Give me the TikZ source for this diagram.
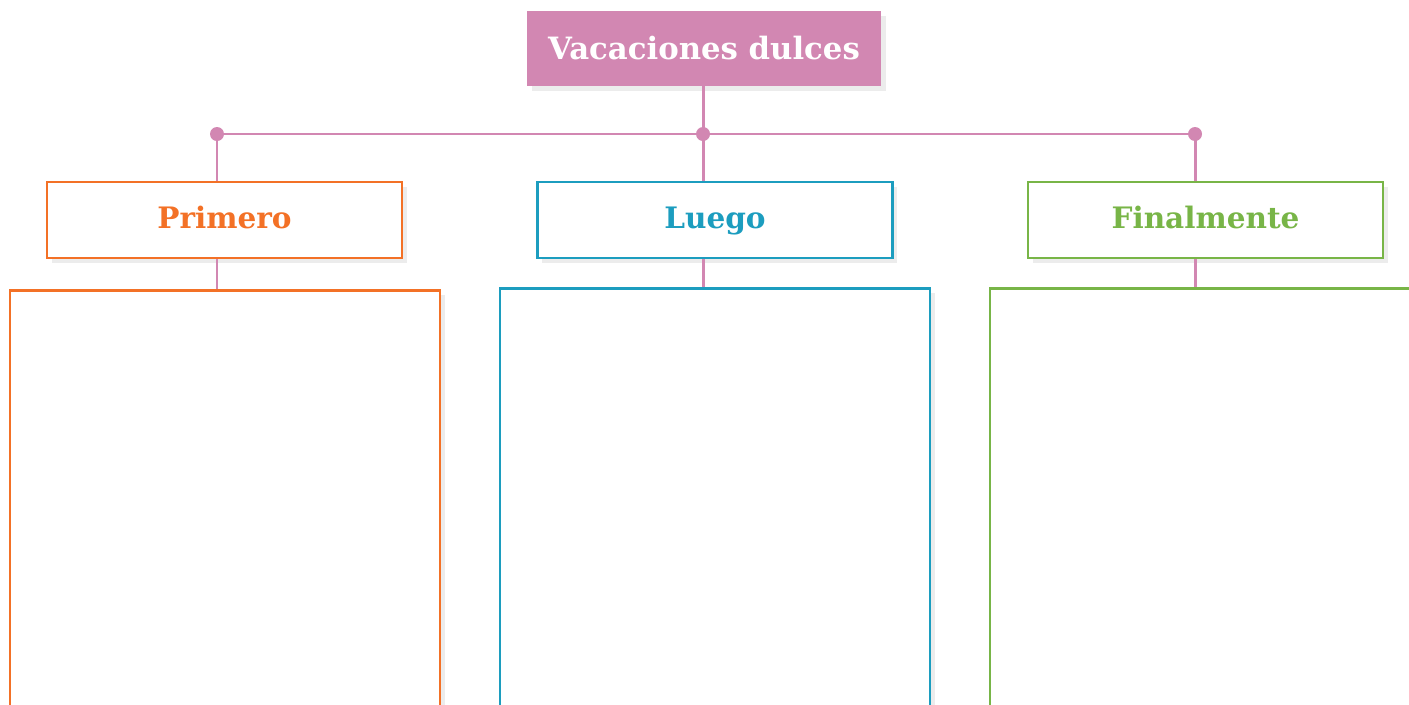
\documentclass[tikz,border=0pt]{standalone}
\usepackage{fontspec}
\setmainfont{DejaVu Serif}
\usetikzlibrary{shadows}
\definecolor{rosa}{HTML}{D287B2}
\definecolor{naranja}{HTML}{F37126}
\definecolor{azul}{HTML}{1C9DBF}
\definecolor{verde}{HTML}{78B547}
\tikzset{
  sombra/.style={drop shadow={opacity=0.15, shadow xshift=0.09cm, shadow yshift=-0.09cm}},
  titulo/.style={fill=rosa, text=white, font=\bfseries\fontsize{17.5}{20}\selectfont,
    minimum width=7.08cm, minimum height=1.5cm, inner sep=0pt, sombra},
  cabeza/.style={draw=#1, line width=1.5pt, fill=white, text=#1,
    font=\bfseries\fontsize{16.8}{20}\selectfont, text height=2.4ex, text depth=0.6ex,
    minimum width=7.1cm, minimum height=1.52cm, inner sep=0pt, sombra},
  caja/.style={draw=#1, line width=1.5pt, fill=white, anchor=north,
    minimum width=8.6cm, minimum height=9cm, inner sep=0pt, sombra},
  enlace/.style={draw=rosa, line width=1.7pt},
  punto/.style={fill=rosa}
}
\begin{document}
\begin{tikzpicture}
\useasboundingbox (0,0) rectangle (28.18,-14.08);
\clip (0,0) rectangle (28.18,-14.08);
%% title
\node[titulo] (tit) at (14.08,-0.97) {Vacaciones dulces};
%% joints on the bar
\coordinate (d1) at (4.34,-2.68);
\coordinate (d2) at (14.06,-2.68);
\coordinate (d3) at (23.9,-2.68);
%% headers
\node[cabeza=naranja] (h1) at (4.49,-4.40) {Primero};
\node[cabeza=azul] (h2) at (14.3,-4.40) {Luego};
\node[cabeza=verde] (h3) at (24.11,-4.40) {Finalmente};
%% empty boxes (run off the page)
\node[caja=naranja] (b1) at (4.5,-5.78) {};
\node[caja=azul] (b2) at (14.3,-5.74) {};
\node[caja=verde] (b3) at (24.1,-5.74) {};
%% connectors
\draw[enlace] (d1) -- (d3);
\draw[enlace] (tit.south -| d2) -- (d2);
\foreach\i in {1,2,3}
  {
  \draw[enlace] (d\i) -- (d\i |- h\i.north);
  \draw[enlace] (d\i |- h\i.south) -- (d\i |- b\i.north);
  \fill[punto] (d\i) circle (0.14);
  }
\end{tikzpicture}
\end{document}
